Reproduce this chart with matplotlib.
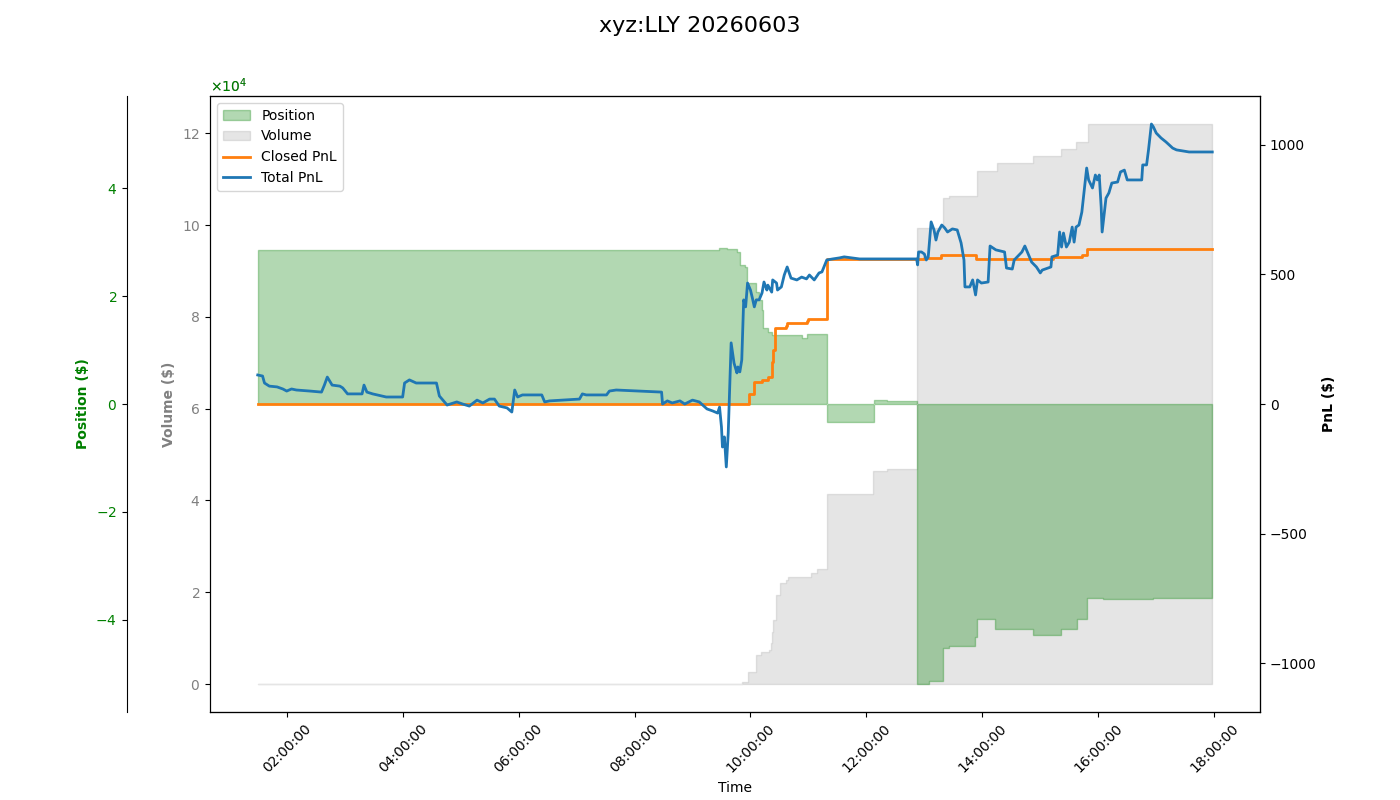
import pandas as pd
import matplotlib
matplotlib.use("Agg")
import matplotlib.pyplot as plt
import matplotlib.dates as mdates

symbol = "xyz:LLY"
day = "2026-06-03"

# total pnl, sampled along the session
total_times = [
    "01:30", "01:35", "01:37", "01:42", "01:50", "01:56", "02:00", "02:05", "02:10", "02:24",
    "02:36", "02:39", "02:42", "02:47", "02:55", "02:58", "03:03", "03:18", "03:20", "03:23",
    "03:29", "03:43", "04:00", "04:02", "04:07", "04:14", "04:35", "04:38", "04:46", "04:56",
    "05:02", "05:09", "05:17", "05:23", "05:30", "05:35", "05:40", "05:48", "05:53", "05:56",
    "05:59", "06:04", "06:24", "06:27", "06:32", "06:46", "07:03", "07:06", "07:10", "07:31",
    "07:34", "07:41", "08:05", "08:28", "08:29", "08:34", "08:39", "08:47", "08:52", "09:00",
    "09:07", "09:15", "09:21", "09:26", "09:28", "09:30", "09:31", "09:33", "09:35", "09:37",
    "09:40", "09:43", "09:46", "09:47", "09:49", "09:51", "09:53", "09:55", "09:57", "10:00",
    "10:02", "10:04", "10:06", "10:09", "10:12", "10:14", "10:17", "10:18", "10:22", "10:23",
    "10:27", "10:28", "10:32", "10:35", "10:38", "10:42", "10:48", "10:53", "10:58", "11:01",
    "11:06", "11:11", "11:14", "11:19", "11:25", "11:32", "11:37", "11:53", "12:52", "12:53",
    "12:54", "12:57", "13:00", "13:02", "13:04", "13:07", "13:10", "13:12", "13:14", "13:18",
    "13:21", "13:24", "13:29", "13:34", "13:38", "13:41", "13:42", "13:47", "13:50", "13:53",
    "13:55", "13:59", "14:06", "14:08", "14:14", "14:23", "14:25", "14:31", "14:33", "14:41",
    "14:44", "14:47", "14:51", "14:56", "15:00", "15:02", "15:11", "15:12", "15:18", "15:20",
    "15:22", "15:24", "15:27", "15:30", "15:33", "15:35", "15:37", "15:40", "15:43", "15:48",
    "15:50", "15:54", "15:57", "15:59", "16:01", "16:03", "16:04", "16:08", "16:11", "16:14",
    "16:20", "16:23", "16:27", "16:30", "16:45", "16:46", "16:50", "16:52", "16:55", "16:57",
    "17:00", "17:05", "17:10", "17:17", "17:21", "17:34", "17:58",
]
total_pnl = [
    112, 108, 81, 69, 66, 58, 50, 58, 54, 50,
    46, 73, 104, 73, 69, 62, 39, 39, 73, 46,
    39, 27, 27, 81, 93, 81, 81, 31, -4, 8,
    0, -8, 15, 4, 19, 19, -8, -15, -31, 54,
    27, 35, 35, 8, 12, 15, 19, 39, 35, 35,
    50, 54, 50, 46, 0, 12, 4, 12, 0, 15,
    8, -19, -27, -35, -12, -89, -166, -127, -243, -112,
    236, 158, 120, 143, 124, 170, 402, 375, 467, 440,
    409, 375, 402, 402, 429, 471, 440, 459, 432, 479,
    467, 440, 452, 498, 529, 486, 479, 490, 483, 498,
    479, 506, 510, 556, 560, 564, 568, 560, 560, 537,
    587, 587, 579, 556, 568, 703, 672, 633, 664, 691,
    680, 664, 676, 672, 622, 556, 452, 452, 479, 421,
    479, 467, 471, 610, 595, 587, 525, 521, 556, 587,
    610, 583, 548, 529, 506, 517, 529, 568, 575, 664,
    606, 660, 606, 625, 683, 625, 683, 691, 741, 911,
    865, 834, 884, 865, 884, 761, 664, 795, 815, 853,
    857, 896, 903, 865, 865, 923, 923, 981, 1081, 1070,
    1046, 1027, 1012, 988, 981, 973, 973,
]

# closed pnl changes (step after)
closed_times = [
    "01:30", "09:58", "10:04", "10:12", "10:18", "10:22", "10:23", "10:25", "10:37", "10:38",
    "10:59", "11:00", "11:19", "13:00", "13:17", "13:53", "15:13", "15:43", "15:48", "17:58",
]
closed_pnl = [
    0, 39, 85, 93, 104, 162, 208, 293, 301, 313,
    320, 328, 560, 564, 575, 560, 568, 575, 598, 598,
]

# position changes (step after)
pos_times = [
    "01:30", "09:27", "09:36", "09:46", "09:49", "09:54", "09:56", "10:06", "10:09", "10:12",
    "10:13", "10:18", "10:22", "10:53", "10:59", "11:19", "12:08", "12:21", "12:52", "13:05",
    "13:19", "13:26", "13:52", "13:54", "14:13", "14:52", "15:21", "15:38", "15:48", "16:05",
    "16:57", "17:58",
]
position = [
    28460, 28830, 28650, 28090, 25850, 25480, 22500, 20830, 19340, 17480,
    14140, 13390, 12830, 12280, 13020, -3350, 744, 560, -51890, -51300,
    -45200, -44830, -43150, -39800, -41660, -42780, -41660, -39800, -35900, -36100,
    -35900, -35700,
]

# cumulative traded volume (step after)
vol_times = [
    "01:30", "09:51", "09:57", "10:06", "10:11", "10:19", "10:21", "10:22", "10:23", "10:26",
    "10:31", "10:37", "10:39", "11:03", "11:09", "11:19", "12:07", "12:21", "12:52", "13:19",
    "13:26", "13:54", "14:15", "14:52", "15:21", "15:37", "15:49", "17:58",
]
volume = [
    0, 436, 2615, 6320, 6970, 7400, 8930, 11330, 13950, 19390,
    22010, 22660, 23320, 24190, 25060, 41400, 46400, 46850, 99360, 105900,
    106340, 111780, 113630, 115050, 116580, 118100, 122020, 122020,
]


def to_dt(times):
    return pd.to_datetime([f"{day} {t}" for t in times])


t_total = to_dt(total_times)
t_closed = to_dt(closed_times)
t_pos = to_dt(pos_times)
t_vol = to_dt(vol_times)

fig, ax = plt.subplots(figsize=(14, 8), dpi=100)
fig.subplots_adjust(left=0.15, right=0.9, top=0.88, bottom=0.11)

# volume on the main axis
ax.fill_between(t_vol, volume, step="post", color="gray", alpha=0.2, label="Volume")
ax.set_ylabel("Volume ($)", color="gray", fontweight="bold")
ax.tick_params(axis="y", labelcolor="gray")
ax.ticklabel_format(axis="y", style="sci", scilimits=(4, 4), useMathText=True)
ax.yaxis.get_offset_text().set_color("gray")
ax.set_xlabel("Time")

# position on an offset left axis
ax_pos = ax.twinx()
ax_pos.spines["left"].set_position(("outward", 60))
ax_pos.spines["left"].set_visible(True)
ax_pos.yaxis.set_label_position("left")
ax_pos.yaxis.set_ticks_position("left")
ax_pos.fill_between(t_pos, position, step="post", color="green", alpha=0.3, label="Position")
lim = max(abs(p) for p in position) * 1.1
ax_pos.set_ylim(-lim, lim)
ax_pos.set_ylabel("Position ($)", color="green", fontweight="bold")
ax_pos.tick_params(axis="y", labelcolor="green")
ax_pos.ticklabel_format(axis="y", style="sci", scilimits=(0, 0), useMathText=True)
ax_pos.yaxis.get_offset_text().set_color("green")

# pnl on the right
ax_pnl = ax.twinx()
ax_pnl.plot(t_closed, closed_pnl, drawstyle="steps-post", color="tab:orange", lw=2, label="Closed PnL")
ax_pnl.plot(t_total, total_pnl, color="tab:blue", lw=2, label="Total PnL")
lim = max(abs(v) for v in total_pnl + closed_pnl) * 1.1
ax_pnl.set_ylim(-lim, lim)
ax_pnl.set_ylabel("PnL ($)", fontweight="bold")

ax.xaxis.set_major_locator(mdates.HourLocator(interval=2))
ax.xaxis.set_major_formatter(mdates.DateFormatter("%H:%M:%S"))
plt.setp(ax.get_xticklabels(), rotation=45)

handles = []
labels = []
for a in (ax_pos, ax, ax_pnl):
    h, l = a.get_legend_handles_labels()
    handles += h
    labels += l
ax_pnl.legend(handles, labels, loc="upper left")

fig.suptitle(f"{symbol} 20260603", fontsize=16)
fig.savefig("out.png", dpi=100)
